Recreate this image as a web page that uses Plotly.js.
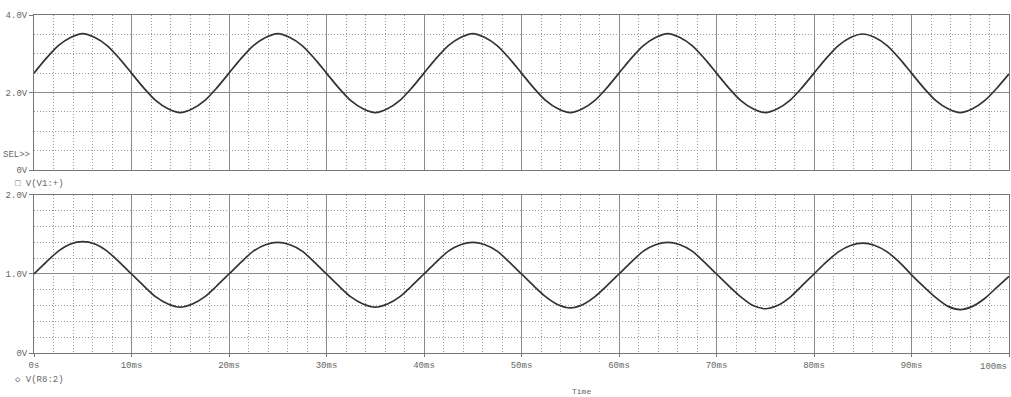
<!DOCTYPE html>
<html>
<head>
<meta charset="utf-8">
<script src="https://cdn.plot.ly/plotly-3.0.1.min.js"></script>
<style>
html,body{margin:0;padding:0;background:#fff;}
#chart{width:1011px;height:397px;}
</style>
</head>
<body>
<div id="chart"></div>
<script>
// Time in ms (1.25 ms steps)
const timeMs = [0,1.25,2.5,3.75,5,6.25,7.5,8.75,10,11.25,12.5,13.75,15,16.25,17.5,18.75,
  20,21.25,22.5,23.75,25,26.25,27.5,28.75,30,31.25,32.5,33.75,35,36.25,37.5,38.75,
  40,41.25,42.5,43.75,45,46.25,47.5,48.75,50,51.25,52.5,53.75,55,56.25,57.5,58.75,
  60,61.25,62.5,63.75,65,66.25,67.5,68.75,70,71.25,72.5,73.75,75,76.25,77.5,78.75,
  80,81.25,82.5,83.75,85,86.25,87.5,88.75,90,91.25,92.5,93.75,95,96.25,97.5,98.75,100];
// V(V1:+) in volts
const vV1 = [2.50,2.88,3.21,3.42,3.52,3.42,3.21,2.88,2.50,2.12,1.79,1.58,1.48,1.58,1.79,2.12,
  2.50,2.88,3.21,3.42,3.52,3.42,3.21,2.88,2.50,2.12,1.79,1.58,1.48,1.58,1.79,2.12,
  2.50,2.88,3.21,3.42,3.52,3.42,3.21,2.88,2.50,2.12,1.79,1.58,1.48,1.58,1.79,2.12,
  2.50,2.88,3.21,3.42,3.52,3.42,3.21,2.88,2.50,2.12,1.79,1.58,1.48,1.58,1.79,2.12,
  2.50,2.88,3.21,3.42,3.51,3.42,3.21,2.88,2.50,2.12,1.79,1.58,1.48,1.58,1.79,2.11,2.48];
// V(R8:2) in volts
const vR8 = [1.00,1.15,1.29,1.38,1.41,1.38,1.29,1.15,1.00,0.85,0.71,0.62,0.58,0.62,0.71,0.85,
  1.00,1.15,1.29,1.37,1.40,1.37,1.29,1.15,1.00,0.85,0.71,0.62,0.58,0.62,0.71,0.85,
  1.00,1.15,1.29,1.37,1.40,1.37,1.29,1.15,1.00,0.85,0.71,0.61,0.57,0.61,0.71,0.85,
  1.00,1.15,1.29,1.37,1.40,1.37,1.29,1.15,1.00,0.85,0.71,0.60,0.56,0.60,0.70,0.85,
  1.00,1.15,1.28,1.36,1.39,1.36,1.28,1.15,0.99,0.84,0.70,0.59,0.55,0.59,0.69,0.83,0.97];
// Tick labels
const xTickVals = [0,10,20,30,40,50,60,70,80,90,100];
const xTickText = ['0s','10ms','20ms','30ms','40ms','50ms','60ms','70ms','80ms','90ms','100ms'];
const topTickVals = [0,2,4];
const topTickText = ['0V','2.0V','4.0V'];
const botTickVals = [0,1,2];
const botTickText = ['0V','1.0V','2.0V'];

const lineStyle = {color:'#333', width:1.7, shape:'spline', smoothing:0.8};
const traces = [
  {x:timeMs, y:vV1, xaxis:'x2', yaxis:'y2', mode:'lines', line:lineStyle, hoverinfo:'skip'},
  {x:timeMs, y:vR8, xaxis:'x', yaxis:'y', mode:'lines', line:lineStyle, hoverinfo:'skip'}
];

const fnt = {family:'Liberation Mono, DejaVu Sans Mono, monospace', size:9, color:'#666'};
// last tick label is drawn as an annotation so it stays inside the picture
const shownTickText = xTickText.map((t,i) => i === xTickText.length-1 ? '' : t);
const minorDash = '1px,2px';
const xCommon = {
  range:[0,100], showline:true, mirror:true, linecolor:'#777', linewidth:1,
  showgrid:true, gridcolor:'#8a8a8a', gridwidth:1,
  tickmode:'array', tickvals:xTickVals, ticktext:shownTickText,
  ticks:'outside', ticklen:3, tickcolor:'#777', tickfont:fnt, zeroline:false,
  minor:{tickmode:'linear', tick0:0, dtick:2, showgrid:true, gridcolor:'#9a9a9a', griddash:minorDash, gridwidth:1, ticks:''}
};
const layout = {
  width:1011, height:397,
  margin:{l:34, r:2, t:15, b:44},
  paper_bgcolor:'#fff', plot_bgcolor:'#fff',
  showlegend:false,
  font:fnt,
  xaxis:Object.assign({}, xCommon, {anchor:'y', domain:[0,1]}),
  xaxis2:Object.assign({}, xCommon, {anchor:'y2', matches:'x', showticklabels:false, ticks:''}),
  yaxis:{domain:[0,0.4675], range:[0,2], anchor:'x', showline:true, mirror:true, linecolor:'#777',
    tickmode:'array', tickvals:botTickVals, ticktext:botTickText, ticks:'outside', ticklen:4, tickcolor:'#777',
    tickfont:fnt, showgrid:true, gridcolor:'#8a8a8a', zeroline:false,
    minor:{tickmode:'linear', tick0:0, dtick:0.2, showgrid:true, gridcolor:'#9a9a9a', griddash:minorDash, ticks:''}},
  yaxis2:{domain:[0.5414,1], range:[0,4], anchor:'x2', showline:true, mirror:true, linecolor:'#777',
    tickmode:'array', tickvals:topTickVals, ticktext:topTickText, ticks:'outside', ticklen:4, tickcolor:'#777',
    tickfont:fnt, showgrid:true, gridcolor:'#8a8a8a', zeroline:false,
    minor:{tickmode:'linear', tick0:0, dtick:0.5, showgrid:true, gridcolor:'#9a9a9a', griddash:minorDash, ticks:''}},
  annotations:[
    {text:xTickText[xTickText.length-1], xref:'paper', yref:'paper', x:1, y:-0.0414, xanchor:'right', yanchor:'middle', showarrow:false, font:fnt},
    {text:'SEL>>', xref:'paper', yref:'paper', x:-0.034, y:0.585, xanchor:'left', yanchor:'middle', showarrow:false, font:fnt},
    {text:'\u25A1 V(V1:+)', xref:'paper', yref:'paper', x:-0.022, y:0.50, xanchor:'left', yanchor:'middle', showarrow:false, font:fnt},
    {text:'\u25C7 V(R8:2)', xref:'paper', yref:'paper', x:-0.022, y:-0.08, xanchor:'left', yanchor:'middle', showarrow:false, font:fnt},
    {text:'Time', xref:'paper', yref:'paper', x:0.562, y:-0.115, xanchor:'center', yanchor:'middle', showarrow:false, font:{family:fnt.family, size:8, color:'#666'}}
  ]
};
Plotly.newPlot('chart', traces, layout, {staticPlot:true, displayModeBar:false});
</script>
</body>
</html>
